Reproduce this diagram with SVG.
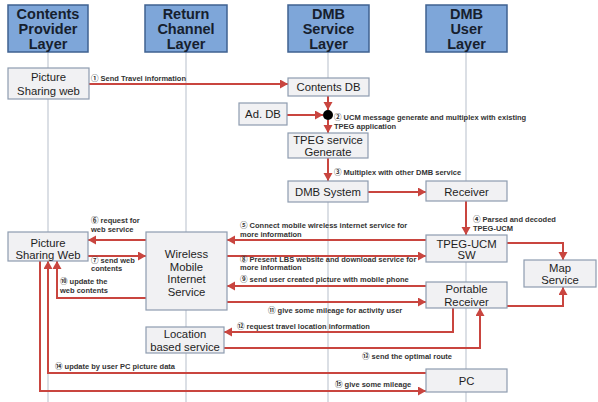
<svg xmlns="http://www.w3.org/2000/svg" width="598" height="402" viewBox="0 0 598 402">
  <style>
    .hdr rect { fill: #7ea6d9; stroke: #3f6190; stroke-width: 1.5; }
    .hdr text { font-family: "Liberation Sans", "Noto Sans", sans-serif; font-weight: bold; font-size: 14.5px; fill: #16202e; text-anchor: middle; }
    .life { stroke: #b7bfcb; stroke-width: 1; fill: none; }
    .node rect { fill: #f1f1f3; stroke: #8e9cb0; stroke-width: 1.2; }
    .node text { font-family: "Liberation Sans", "Noto Sans", sans-serif; font-size: 11.3px; fill: #1e1e1e; text-anchor: middle; }
    .conn path { stroke: #c9453f; stroke-width: 2; fill: none; }
    .conn .arr { marker-end: url(#ah); }
    .lbl { font-family: "Liberation Sans", "Noto Sans CJK KR", sans-serif; font-weight: bold; font-size: 7.5px; fill: #333; }
  </style>
  <defs>
    <marker id="ah" markerUnits="userSpaceOnUse" markerWidth="10" markerHeight="10" refX="8" refY="4.5" orient="auto">
      <path d="M0,0 L8,4.5 L0,9 Z" fill="#c9453f"/>
    </marker>
  </defs>
  <rect width="598" height="402" fill="#ffffff"/>

  <!-- lifelines -->
  <g id="lifelines">
    <path class="life" d="M48,52 V402"/>
    <path class="life" d="M186,52 V402"/>
    <path class="life" d="M328,52 V402"/>
    <path class="life" d="M466,52 V402"/>
  </g>

  <!-- layer headers -->
  <g id="hdr-provider" class="hdr">
    <rect x="8" y="5" width="80" height="47"/>
    <text x="48" y="19">Contents</text>
    <text x="48" y="34">Provider</text>
    <text x="48" y="49">Layer</text>
  </g>
  <g id="hdr-return" class="hdr">
    <rect x="145" y="5" width="82" height="47"/>
    <text x="186" y="19">Return</text>
    <text x="186" y="34">Channel</text>
    <text x="186" y="49">Layer</text>
  </g>
  <g id="hdr-service" class="hdr">
    <rect x="288" y="5" width="81" height="47"/>
    <text x="328.5" y="19">DMB</text>
    <text x="328.5" y="34">Service</text>
    <text x="328.5" y="49">Layer</text>
  </g>
  <g id="hdr-user" class="hdr">
    <rect x="426" y="5" width="81" height="47"/>
    <text x="466.5" y="19">DMB</text>
    <text x="466.5" y="34">User</text>
    <text x="466.5" y="49">Layer</text>
  </g>

  <!-- connectors -->
  <g id="connectors" class="conn">
    <path class="arr" d="M89,84 H288"/>
    <path class="arr" d="M328,96 V110"/>
    <path class="arr" d="M287,115 H323"/>
    <path class="arr" d="M328,120 V133"/>
    <path class="arr" d="M328,158 V181"/>
    <path class="arr" d="M368,192 H426"/>
    <path class="arr" d="M466,201 V235"/>
    <path class="arr" d="M507,243 H563 V260"/>
    <path class="arr" d="M507,306 H563 V287"/>
    <path class="arr" d="M426,240 H227"/>
    <path class="arr" d="M146,240 H88"/>
    <path class="arr" d="M88,256 H146"/>
    <path class="arr" d="M227,256 H426"/>
    <path class="arr" d="M426,286 H227"/>
    <path class="arr" d="M146,298 H57 V261"/>
    <path class="arr" d="M227,302 H426"/>
    <path class="arr" d="M453,308 V332 H224"/>
    <path class="arr" d="M224,348 H480 V308"/>
    <path class="arr" d="M426,373 H48 V261"/>
    <path class="arr" d="M40,261 V391 H426"/>
    <circle cx="328" cy="115" r="5" fill="#000"/>
  </g>

  <!-- connector labels -->
  <g id="labels">
    <text class="lbl" x="91" y="81">① Send Travel information</text>
    <text class="lbl" x="334" y="119.5">② UCM message generate and multiplex with existing</text>
    <text class="lbl" x="334" y="129">TPEG application</text>
    <text class="lbl" x="334" y="175">③ Multiplex with other DMB service</text>
    <text class="lbl" x="473" y="222">④ Parsed and decoded</text>
    <text class="lbl" x="473" y="231">TPEG-UCM</text>
    <text class="lbl" x="240" y="228">⑤ Connect mobile wireless internet service for</text>
    <text class="lbl" x="240" y="236.5">more information</text>
    <text class="lbl" x="91" y="223">⑥ request for</text>
    <text class="lbl" x="91" y="232">web service</text>
    <text class="lbl" x="91" y="263">⑦ send web</text>
    <text class="lbl" x="91" y="271">contents</text>
    <text class="lbl" x="240" y="262">⑧ Present LBS website and download service for</text>
    <text class="lbl" x="240" y="270">more information</text>
    <text class="lbl" x="240" y="282">⑨ send user created picture with mobile phone</text>
    <text class="lbl" x="60" y="284">⑩ update the</text>
    <text class="lbl" x="60" y="293">web contents</text>
    <text class="lbl" x="268" y="313">⑪ give some mileage for activity user</text>
    <text class="lbl" x="237" y="329">⑫ request travel location information</text>
    <text class="lbl" x="362" y="359">⑬ send the optimal route</text>
    <text class="lbl" x="55" y="369">⑭ update by user PC picture data</text>
    <text class="lbl" x="335" y="387">⑮ give some mileage</text>
  </g>

  <!-- nodes -->
  <g id="picture-sharing-web-top" class="node">
    <rect x="8" y="68" width="81" height="31"/>
    <text x="48.5" y="81">Picture</text>
    <text x="48.5" y="95">Sharing web</text>
  </g>
  <g id="contents-db" class="node">
    <rect x="288" y="78" width="81" height="18"/>
    <text x="328.5" y="91">Contents DB</text>
  </g>
  <g id="ad-db" class="node">
    <rect x="239" y="103" width="48" height="22"/>
    <text x="263" y="118">Ad. DB</text>
  </g>
  <g id="tpeg-service-generate" class="node">
    <rect x="288" y="133" width="80" height="25"/>
    <text x="328" y="144">TPEG service</text>
    <text x="328" y="155.5">Generate</text>
  </g>
  <g id="dmb-system" class="node">
    <rect x="288" y="181" width="80" height="21"/>
    <text x="328" y="196">DMB System</text>
  </g>
  <g id="receiver" class="node">
    <rect x="426" y="181" width="81" height="20"/>
    <text x="466.5" y="195.5">Receiver</text>
  </g>
  <g id="picture-sharing-web" class="node">
    <rect x="8" y="232" width="80" height="29"/>
    <text x="48" y="247">Picture</text>
    <text x="48" y="259">Sharing Web</text>
  </g>
  <g id="wireless-mobile-internet" class="node">
    <rect x="146" y="232" width="81" height="78"/>
    <text x="186.5" y="258">Wireless</text>
    <text x="186.5" y="271">Mobile</text>
    <text x="186.5" y="283">Internet</text>
    <text x="186.5" y="296">Service</text>
  </g>
  <g id="tpeg-ucm-sw" class="node">
    <rect x="426" y="235" width="81" height="27"/>
    <text x="466.5" y="248">TPEG-UCM</text>
    <text x="466.5" y="259">SW</text>
  </g>
  <g id="map-service" class="node">
    <rect x="524" y="260" width="72" height="27"/>
    <text x="560" y="271.5">Map</text>
    <text x="560" y="284">Service</text>
  </g>
  <g id="portable-receiver" class="node">
    <rect x="426" y="282" width="81" height="26"/>
    <text x="466.5" y="293">Portable</text>
    <text x="466.5" y="305.5">Receiver</text>
  </g>
  <g id="location-based-service" class="node">
    <rect x="146" y="327" width="78" height="26"/>
    <text x="185" y="338">Location</text>
    <text x="185" y="350.5">based service</text>
  </g>
  <g id="pc" class="node">
    <rect x="426" y="369" width="81" height="23"/>
    <text x="466.5" y="385">PC</text>
  </g>
</svg>
